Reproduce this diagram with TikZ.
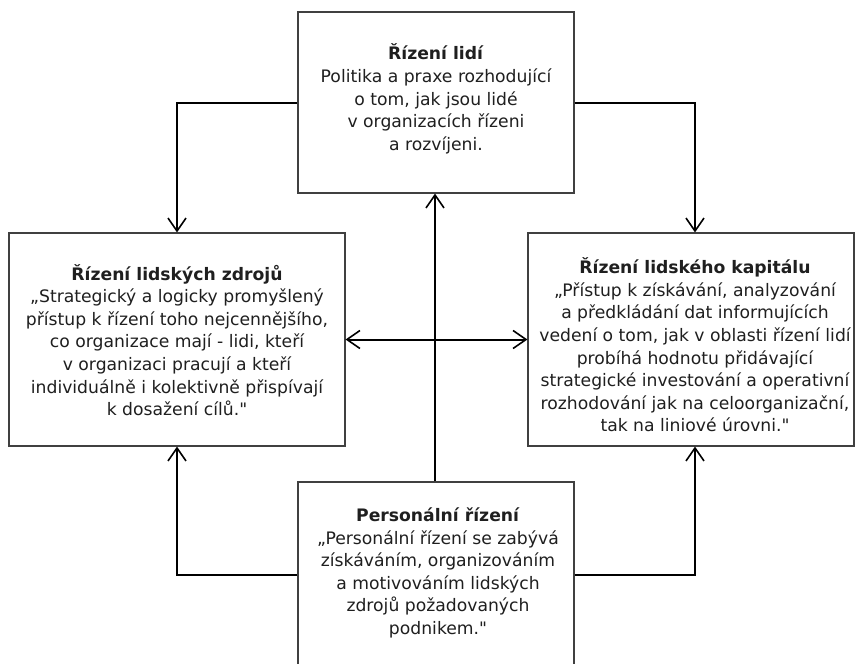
\documentclass[tikz,border=0pt]{standalone}
\usepackage{fontspec}
\newfontfamily\dvs{DejaVu Sans}
\usetikzlibrary{arrows.meta,calc}
\begin{document}
\begin{tikzpicture}[x=1pt,y=-1pt,
  openv/.tip={Straight Barb[length=13pt,width=18pt,line width=1.6pt]},
  box/.style={draw=black!75, line width=1.1pt, inner sep=0pt, fill=white},
  txt/.style={align=center, font=\dvs\fontsize{17.2}{22.6}\selectfont, text=black!88, inner sep=0pt},
  conn/.style={line width=2pt, draw=black, line join=miter}]
\useasboundingbox (0,0) rectangle (855,664);
\fill[white] (0,0) rectangle (855,664);
% boxes
\node[box, minimum width=276pt, minimum height=181pt] (top) at (436,102.5) {};
\node[box, minimum width=336pt, minimum height=213pt] (left) at (177,339.5) {};
\node[box, minimum width=326pt, minimum height=213pt] (right) at (691,339.5) {};
\node[box, minimum width=276pt, minimum height=186pt] (bottom) at (436,575) {};
% helper coordinates for connector columns
\coordinate (lx) at (177,0);
\coordinate (rx) at (695,0);
\coordinate (mx) at (435,0);
% texts
\node[txt] (ttop) at (436,99) {\textbf{Řízení lidí}\\Politika a praxe rozhodující\\o tom, jak jsou lidé\\v organizacích řízeni\\a rozvíjeni.};
\node[txt] (tleft) at (177,340) {\textbf{Řízení lidských zdrojů}\\„Strategický a logicky promyšlený\\přístup k řízení toho nejcennějšího,\\co organizace mají - lidi, kteří\\v organizaci pracují a kteří\\individuálně i kolektivně přispívají\\k dosažení cílů."};
\node[txt] (tright) at (695,345) {\textbf{Řízení lidského kapitálu}\\„Přístup k získávání, analyzování\\a předkládání dat informujících\\vedení o tom, jak v oblasti řízení lidí\\probíhá hodnotu přidávající\\strategické investování a operativní\\rozhodování jak na celoorganizační,\\tak na liniové úrovni."};
\node[txt] (tbottom) at (438,573) {\textbf{Personální řízení}\\„Personální řízení se zabývá\\získáváním, organizováním\\a motivováním lidských\\zdrojů požadovaných\\podnikem."};
% connectors
\draw[conn, -openv] (top.west) -| (left.north -| lx);
\draw[conn, -openv] (top.east) -| (right.north -| rx);
\draw[conn, -openv] (bottom.north -| mx) -- (top.south -| mx);
\draw[conn, openv-openv] (left.east) -- (right.west);
\draw[conn, -openv] (bottom.west) -| (left.south -| lx);
\draw[conn, -openv] (bottom.east) -| (right.south -| rx);
\end{tikzpicture}
\end{document}
